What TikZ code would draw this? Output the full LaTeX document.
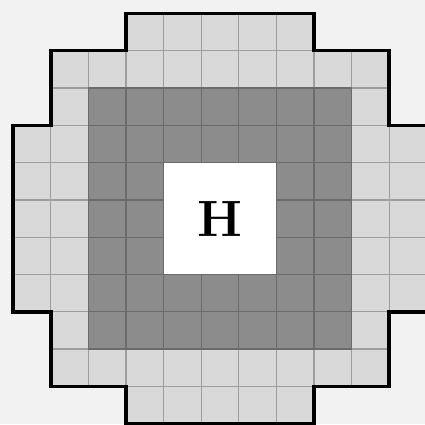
\documentclass[tikz,border=0pt]{standalone}
\begin{document}
\begin{tikzpicture}[x=1pt,y=-1pt]
\definecolor{bgc}{gray}{0.95}
\definecolor{lightc}{gray}{0.85}
\definecolor{darkc}{gray}{0.55}
\definecolor{lgrid}{gray}{0.62}
\definecolor{dgrid}{gray}{0.42}
\tikzset{
  outline/.style={line width=3.5pt, black, line join=miter},
  lightgrid/.style={lgrid, line width=1.3pt},
  darkgrid/.style={dgrid, line width=1.3pt},
}
\fill[bgc] (0,0) rectangle (425,424);
\useasboundingbox (0,0) rectangle (425,424);
\begin{scope}[shift={(13.2,13.35)}, x=37.6pt, y=-37.3pt]
  \def\shape{(3,0) -- (8,0) -- (8,1) -- (10,1) -- (10,3) -- (11,3) -- (11,8) -- (10,8) -- (10,10) -- (8,10) -- (8,11) -- (3,11) -- (3,10) -- (1,10) -- (1,8) -- (0,8) -- (0,3) -- (1,3) -- (1,1) -- (3,1) -- cycle}
  \fill[lightc] \shape;
  \begin{scope}
    \clip \shape;
    \foreach \i in {1,...,10} {
      \draw[lightgrid] (\i,0) -- (\i,11);
      \draw[lightgrid] (0,\i) -- (11,\i);
    }
  \end{scope}
  \fill[darkc] (2,2) rectangle (9,9);
  \foreach \i in {2,...,9} {
    \draw[darkgrid] (\i,2) -- (\i,9);
    \draw[darkgrid] (2,\i) -- (9,\i);
  }
  \fill[white] (4,4) rectangle (7,7);
  \node[font=\fontsize{51}{60}\selectfont\bfseries] (h) at (5.5,5.5) {H};
  \draw[outline] \shape;
\end{scope}
\end{tikzpicture}
\end{document}
